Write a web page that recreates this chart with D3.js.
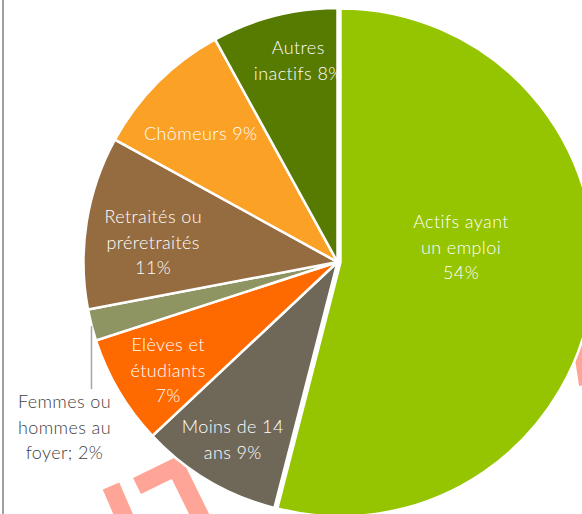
<!DOCTYPE html>
<html>
<head>
<meta charset="utf-8">
<script src="https://cdn.jsdelivr.net/npm/d3@7"></script>
<style>
  body { margin: 0; background: #fff; }
  svg { display: block; }
  .lbl { font-family: Lato, 'Noto Sans', sans-serif; font-size: 18px; font-weight: 300; letter-spacing: 0.4px; }
</style>
</head>
<body>
<div id="chart"></div>
<script>
// data
const categories = ["Actifs ayant un emploi", "Moins de 14 ans", "Elèves et étudiants",
    "Femmes ou hommes au foyer", "Retraités ou préretraités", "Chômeurs", "Autres inactifs"];
const values = [54, 9, 7, 2, 11, 9, 8];
const labelLines = [
    ["Actifs ayant", "un emploi", "54%"],
    ["Moins de 14", "ans 9%"],
    ["Elèves et", "étudiants", "7%"],
    ["Femmes ou", "hommes au", "foyer; 2%"],
    ["Retraités ou", "préretraités", "11%"],
    ["Chômeurs 9%"],
    ["Autres", "inactifs 8%"]
];
const colors = ["#95c400", "#6f6858", "#ff6a00", "#8e9462", "#956b40", "#fba125", "#577a00"];

// layout only (label placement relative to slice middle)
const labelRadius = [0.49, 0.81, 0.79, 0, 0.73, 0.74, 0.81];
const labelShift = [-14.2, 0, -1.8, 0, -2.8, -1.7, 3.4]; // degrees
const outsideLabel = [false, false, false, true, false, false, false];
const explode = [3, 0, 0, 0, 0, 0, 0];

let W = 582, H = 514,
    cx = 337.5, cy = 262,
    R = 254,
    lineH = 25.5;

let svg = d3.select("#chart")
    .append("svg")
    .attr("width", W)
    .attr("height", H);

// frame line on the left
svg.append("line")
    .attr("x1", 3).attr("x2", 3)
    .attr("y1", 0).attr("y2", H)
    .attr("stroke", "#a0a0a0")
    .attr("stroke-width", 2);

// faint watermark strokes behind the pie
let wm = svg.append("g")
    .attr("fill", "none")
    .attr("stroke", "#ffa597")
    .attr("stroke-width", 18)
    .attr("stroke-linejoin", "miter");
wm.append("path").attr("d", "M111,486 L130,530");
wm.append("path").attr("d", "M137,486 L176,467 L202,520");
wm.append("path").attr("d", "M580,345 L586,385").attr("stroke-width", 14);

let dataReady = categories.map(function(c, i) {
    return {name: c, value: values[i], i: i};
});

let pie = d3.pie()
    .sort(null)
    .value(function(d) { return d.value; });

let arcs = pie(dataReady);

let arc = d3.arc()
    .innerRadius(0)
    .outerRadius(R);

let g = svg.append("g")
    .attr("transform", "translate(" + cx + "," + cy + ")");

function mid(d) { return (d.startAngle + d.endAngle) / 2; }

g.selectAll("mySlices")
    .data(arcs)
    .enter()
    .append("path")
    .attr("d", arc)
    .attr("transform", function(d) {
        let a = mid(d), e = explode[d.data.i];
        return "translate(" + (e * Math.sin(a)) + "," + (-e * Math.cos(a)) + ")";
    })
    .attr("fill", function(d) { return colors[d.data.i]; })
    .attr("stroke", "#fff")
    .attr("stroke-width", 2.5);

// labels inside slices
let inner = arcs.filter(function(d) { return !outsideLabel[d.data.i]; });

let labels = g.selectAll("myLabels")
    .data(inner)
    .enter()
    .append("text")
    .attr("class", "lbl")
    .attr("text-anchor", "middle")
    .attr("fill", "#ffffff");

labels.each(function(d) {
    let i = d.data.i,
        a = mid(d) + labelShift[i] * Math.PI / 180,
        r = R * labelRadius[i],
        x = r * Math.sin(a),
        y = -r * Math.cos(a),
        lines = labelLines[i];
    d3.select(this).selectAll("tspan")
        .data(lines)
        .enter()
        .append("tspan")
        .attr("x", x)
        .attr("y", function(l, k) { return y + (k - (lines.length - 1) / 2) * lineH; })
        .attr("dominant-baseline", "central")
        .text(function(l) { return l; });
});

// outside label with leader line
arcs.filter(function(d) { return outsideLabel[d.data.i]; }).forEach(function(d) {
    let i = d.data.i,
        a = mid(d),
        x0 = R * Math.sin(a),
        y0 = -R * Math.cos(a),
        y1 = y0 + 64;
    g.append("line")
        .attr("x1", x0).attr("x2", x0)
        .attr("y1", y0 + 1).attr("y2", y1)
        .attr("stroke", "#a6a6a6")
        .attr("stroke-width", 1.5);
    let lines = labelLines[i];
    g.append("text")
        .attr("class", "lbl")
        .attr("text-anchor", "middle")
        .attr("fill", "#404040")
        .selectAll("tspan")
        .data(lines)
        .enter()
        .append("tspan")
        .attr("x", x0 - 27)
        .attr("y", function(l, k) { return y1 + 12 + k * lineH; })
        .attr("dominant-baseline", "central")
        .text(function(l) { return l; });
});
</script>
</body>
</html>
